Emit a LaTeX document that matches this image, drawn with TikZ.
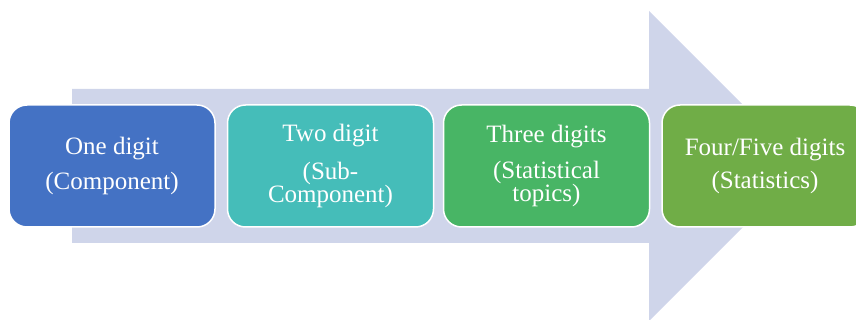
\documentclass[tikz,border=0pt]{standalone}
\usepackage{fontspec}
\setmainfont{Liberation Serif}
\usepackage{xcolor}
\usetikzlibrary{positioning}

\definecolor{arrowbg}{HTML}{CFD5EA}
\definecolor{onecol}{HTML}{4472C4}
\definecolor{twocol}{HTML}{45BDB9}
\definecolor{threecol}{HTML}{48B565}
\definecolor{fourcol}{HTML}{70AD47}

\begin{document}
\begin{tikzpicture}[x=1pt, y=-1pt,
        level/.style={rectangle, draw=white, line width=1.5pt, rounded corners=18pt, align=center, text=white,
            minimum width=206pt, minimum height=122pt, inner sep=2pt, font=\fontsize{25}{22}\selectfont}]

        \useasboundingbox (0,0) rectangle (856,320);

        % Background arrow
        \fill[arrowbg] (72,89) -- (649,89) -- (649,11) -- (804,166) -- (649,321) -- (649,243) -- (72,243) -- cycle;

        % Nodes
        \node[level, fill=onecol, anchor=west] (one) at (8.25,166) {One digit\\[12pt](Component)};
        \node[level, fill=twocol, right=11pt of one] (two) {Two digit\\[14pt](Sub-\\Component)};
        \node[level, fill=threecol, right=8.5pt of two] (three) {Three digits\\[12pt](Statistical\\topics)};
        \node[level, fill=fourcol, right=11pt of three] (four) {Four/Five digits\\[10pt](Statistics)};

    \end{tikzpicture}
\end{document}
